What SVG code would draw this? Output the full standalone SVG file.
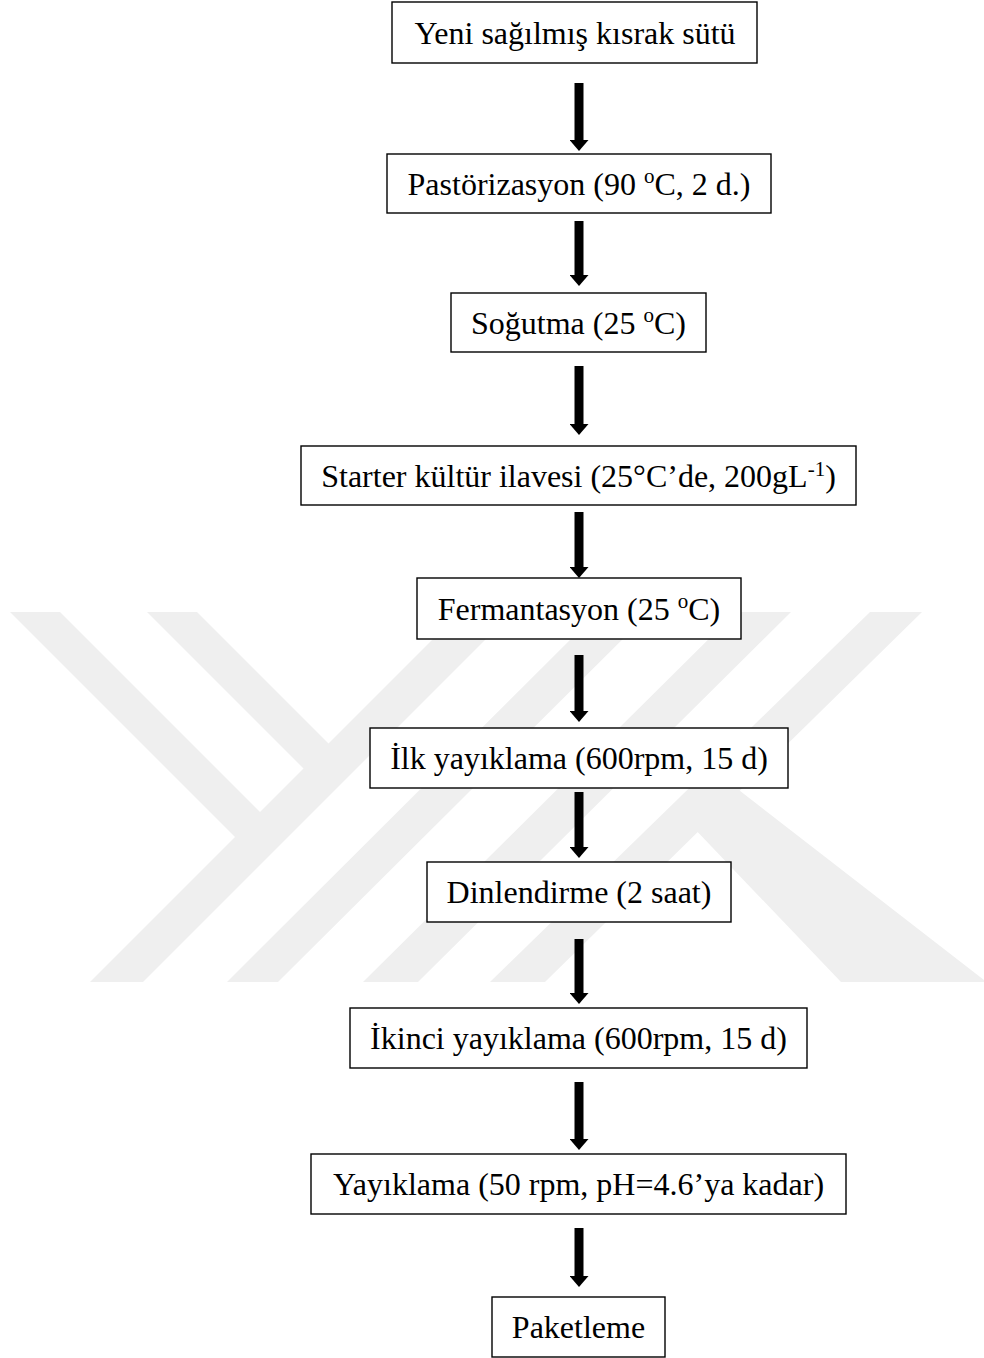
<svg xmlns="http://www.w3.org/2000/svg" width="984" height="1358" viewBox="0 0 984 1358">
<defs>
<marker id="ah" viewBox="0 0 11 19" refX="0" refY="9.5" markerWidth="11" markerHeight="19" markerUnits="userSpaceOnUse" orient="auto"><path d="M0,0 L11,9.5 L0,19 Z" fill="#000"/></marker>
<style>
.box{fill:#fff;stroke:#000;stroke-width:1.4}
.t{font-family:"Liberation Serif","Times New Roman",serif;font-size:32px;fill:#000;text-anchor:middle}
.sup{font-size:21px}
.arr{stroke:#000;stroke-width:9;marker-end:url(#ah)}
.wm{fill:#efefef}
</style>
</defs>
<rect width="984" height="1358" fill="#fff"/>
<g id="watermark">
<polygon class="wm" points="10,612 60,612 262,814 237,839"/>
<polygon class="wm" points="147,612 197,612 332.5,747.5 307.5,772.5"/>
<polygon class="wm" points="460,612 513,612 143,982 90,982"/>
<polygon class="wm" points="598,612 650,612 278,982 227,982"/>
<polygon class="wm" points="736,612 791,612 418,982 363,982"/>
<polygon class="wm" points="870,612 922,612 545,982 490,982"/>
<polygon class="wm" points="690,824 735,787 984,980 984,982 841,982"/>
</g>
<g id="connectors">
<line class="arr" x1="579" y1="83" x2="579" y2="140"/>
<line class="arr" x1="579" y1="221" x2="579" y2="275"/>
<line class="arr" x1="579" y1="366" x2="579" y2="424"/>
<line class="arr" x1="579" y1="512" x2="579" y2="567"/>
<line class="arr" x1="579" y1="655" x2="579" y2="711"/>
<line class="arr" x1="579" y1="792" x2="579" y2="847"/>
<line class="arr" x1="579" y1="939" x2="579" y2="993"/>
<line class="arr" x1="579" y1="1082" x2="579" y2="1139"/>
<line class="arr" x1="579" y1="1228" x2="579" y2="1276"/>
</g>
<g id="n1"><rect class="box" x="392" y="2" width="365" height="61"/><text class="t" x="575" y="43.5">Yeni sağılmış kısrak sütü</text></g>
<g id="n2"><rect class="box" x="387" y="154" width="384" height="59"/><text class="t" x="579" y="194.5">Pastörizasyon (90 <tspan class="sup" dy="-12">o</tspan><tspan dy="12">C, 2 d.)</tspan></text></g>
<g id="n3"><rect class="box" x="451" y="293" width="255" height="59"/><text class="t" x="578.5" y="333.5">Soğutma (25 <tspan class="sup" dy="-12">o</tspan><tspan dy="12">C)</tspan></text></g>
<g id="n4"><rect class="box" x="301" y="446" width="555" height="59"/><text class="t" x="578.5" y="486.5">Starter kültür ilavesi (25°C’de, 200gL<tspan class="sup" dy="-11">-1</tspan><tspan dy="11">)</tspan></text></g>
<g id="n5"><rect class="box" x="417" y="578" width="324" height="61"/><text class="t" x="579" y="619.5">Fermantasyon (25 <tspan class="sup" dy="-12">o</tspan><tspan dy="12">C)</tspan></text></g>
<g id="n6"><rect class="box" x="370" y="728" width="418" height="60"/><text class="t" x="579" y="769">İlk yayıklama (600rpm, 15 d)</text></g>
<g id="n7"><rect class="box" x="427" y="862" width="304" height="60"/><text class="t" x="579" y="903">Dinlendirme (2 saat)</text></g>
<g id="n8"><rect class="box" x="350" y="1008" width="457" height="60"/><text class="t" x="578.5" y="1049">İkinci yayıklama (600rpm, 15 d)</text></g>
<g id="n9"><rect class="box" x="311" y="1154" width="535" height="60"/><text class="t" x="578.5" y="1195">Yayıklama (50 rpm, pH=4.6’ya kadar)</text></g>
<g id="n10"><rect class="box" x="492" y="1297" width="173" height="60"/><text class="t" x="578.5" y="1338">Paketleme</text></g>
</svg>
